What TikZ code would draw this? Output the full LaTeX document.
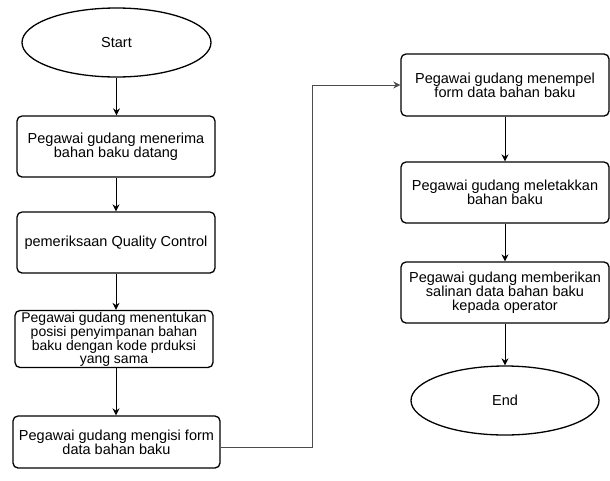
\documentclass[tikz,border=0pt]{standalone}
\usepackage{fontspec}
\setmainfont{Liberation Sans}
\usetikzlibrary{shapes.geometric,arrows.meta}
\begin{document}
\begin{tikzpicture}[x=1pt,y=-1pt,
  every node/.style={font=\fontsize{14.5}{14}\selectfont, align=center, text=black},
  procbox/.style={draw, line width=1.3pt, rounded corners=5pt, inner sep=0pt},
  term/.style={draw, line width=1.3pt, ellipse, inner sep=0pt},
  flow/.style={line width=1pt, -{Stealth[length=7pt,width=7pt]}},
  link/.style={line width=0.9pt, draw=black!70, -{Stealth[length=7pt,width=7pt]}}]
\useasboundingbox (0,0) rectangle (610,480);
\node[term, minimum width=189pt, minimum height=69pt] (start) at (116.5,42.5) {Start};
\node[procbox, minimum width=198pt, minimum height=61pt] (b1) at (116,146.5) {Pegawai gudang menerima\\bahan baku datang};
\node[procbox, minimum width=198pt, minimum height=61pt] (b2) at (116,242.5) {pemeriksaan Quality Control};
\node[procbox, minimum width=198pt, minimum height=57pt, font=\fontsize{14}{13}\selectfont] (b3) at (114,339) {Pegawai gudang menentukan\\posisi penyimpanan bahan\\baku dengan kode prduksi\\yang sama};
\node[procbox, minimum width=207pt, minimum height=52pt] (b4) at (116.5,442) {Pegawai gudang mengisi form\\data bahan baku};
\node[procbox, minimum width=208pt, minimum height=62pt] (b5) at (505,85) {Pegawai gudang menempel\\form data bahan baku};
\node[procbox, minimum width=208pt, minimum height=61pt] (b6) at (505,192.5) {Pegawai gudang meletakkan\\bahan baku};
\node[procbox, minimum width=208pt, minimum height=61pt] (b7) at (505,292.5) {Pegawai gudang memberikan\\salinan data bahan baku\\kepada operator};
\node[term, minimum width=188pt, minimum height=69pt] (end) at (505,400.5) {End};
\draw[flow] (start) -- (start |- b1.north);
\draw[flow] (b1) -- (b2);
\draw[flow] (b2.south) -- (b2.south |- b3.north);
\draw[flow] (b3.south -| b2.south) -- (b2.south |- b4.north);
\coordinate (out) at ([yshift=-5pt]b4.east);
\coordinate (turn) at (312,447);
\draw[link] (out) -- (out -| turn) |- (b5.west);
\draw[flow] (b5) -- (b6);
\draw[flow] (b6) -- (b7);
\draw[flow] (b7) -- (end);
\end{tikzpicture}
\end{document}
